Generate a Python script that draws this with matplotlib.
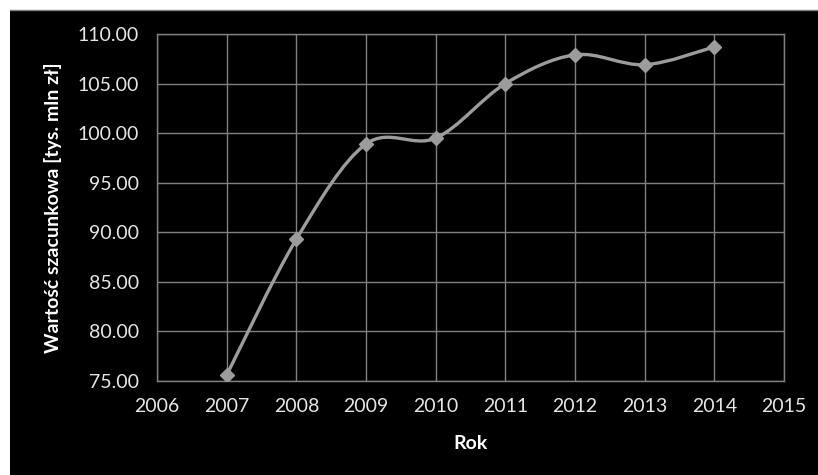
#!/usr/bin/env python3
import numpy as np
import matplotlib
matplotlib.use("Agg")
import matplotlib.pyplot as plt
from matplotlib.path import Path
from matplotlib.patches import PathPatch, Rectangle

# data
years = [2007, 2008, 2009, 2010, 2011, 2012, 2013, 2014]
values = [75.6, 89.3, 98.9, 99.5, 105.0, 107.9, 106.9, 108.7]
x_ticks = list(range(2006, 2016))
y_ticks = [75, 80, 85, 90, 95, 100, 105, 110]

LINE_COLOR = "#9c9c9c"
GRID_COLOR = "#808080"
TEXT_COLOR = "#e6e6e6"

plt.rcParams['font.family'] = ['Lato', 'DejaVu Sans']


def smooth_path(xs, ys):
    # Excel-style smoothed line: cubic Bezier with Catmull-Rom control points
    xs = np.asarray(xs, float)
    ys = np.asarray(ys, float)
    n = len(xs)
    verts = [(xs[0], ys[0])]
    codes = [Path.MOVETO]
    for i in range(n - 1):
        i0 = max(i - 1, 0)
        i3 = min(i + 2, n - 1)
        c1 = (xs[i] + (xs[i + 1] - xs[i0]) / 6, ys[i] + (ys[i + 1] - ys[i0]) / 6)
        c2 = (xs[i + 1] - (xs[i3] - xs[i]) / 6, ys[i + 1] - (ys[i3] - ys[i]) / 6)
        verts += [c1, c2, (xs[i + 1], ys[i + 1])]
        codes += [Path.CURVE4] * 3
    return Path(verts, codes)


fig = plt.figure(figsize=(8.18, 4.75), dpi=100)
fig.patch.set_facecolor("white")
# black chart area with thin white margin at top/left
fig.patches.append(Rectangle((10 / 818, 0), 808 / 818, 465 / 475,
                             transform=fig.transFigure, facecolor="black",
                             edgecolor="none", zorder=-10))
fig.add_artist(plt.Line2D([10 / 818, 1], [465 / 475, 465 / 475],
                          transform=fig.transFigure, color="#7f7f7f", lw=1,
                          zorder=-5))

ax = fig.add_axes([157 / 818, 1 - 381 / 475, 627 / 818, 347 / 475])
ax.set_facecolor("black")

ax.add_patch(PathPatch(smooth_path(years, values), facecolor="none",
                       edgecolor=LINE_COLOR, lw=2.4, zorder=3))
ax.plot(years, values, linestyle="none", marker="D", markersize=7,
        color=LINE_COLOR, zorder=4)

ax.set_xlim(2006, 2015)
ax.set_ylim(75, 110)
ax.set_xticks(x_ticks)
ax.set_yticks(y_ticks)
ax.set_yticklabels([f"{v:.2f}" for v in y_ticks])
ax.grid(True, color=GRID_COLOR, lw=1)
ax.set_axisbelow(True)
for s in ax.spines.values():
    s.set_color(GRID_COLOR)
    s.set_linewidth(1)
ax.tick_params(colors=TEXT_COLOR, labelsize=14, length=0)
ax.tick_params(axis="y", pad=13)
ax.tick_params(axis="x", pad=12)

ax.set_xlabel("Rok", color="white", fontsize=14, fontweight="bold")
ax.set_ylabel("Wartość szacunkowa [tys. mln zł]", color="white",
              fontsize=14, fontweight="bold")
ax.xaxis.set_label_coords(0.5, -0.18)
ax.yaxis.set_label_coords(-0.166, 0.5)
ax.xaxis.label.set_va("center")
ax.yaxis.label.set_va("center")

fig.savefig("out.png", dpi=100)
